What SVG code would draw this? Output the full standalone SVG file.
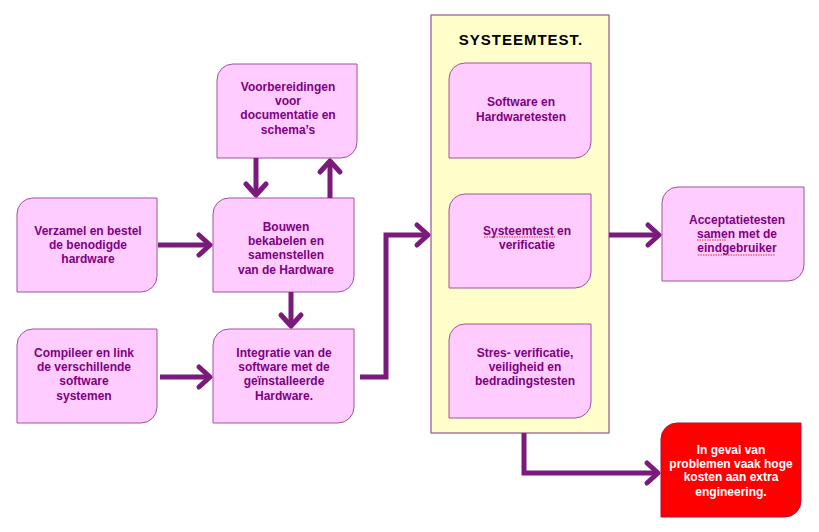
<svg xmlns="http://www.w3.org/2000/svg" width="819" height="532" viewBox="0 0 819 532">
<style>
.box{fill:#ffccff;stroke:#a0529c;stroke-width:1}
.red{fill:#ff0000;stroke:#b0104a;stroke-width:1}
.cont{fill:#ffffcc;stroke:#a0609a;stroke-width:1.3}
.t{font-family:"Liberation Sans",Arial,sans-serif;font-weight:bold;font-size:12px;fill:#800080;text-anchor:middle}
.tw{fill:#ffffff}
.title{font-family:"Liberation Sans",Arial,sans-serif;font-weight:bold;font-size:15px;fill:#000;text-anchor:middle;letter-spacing:1px}
.c{fill:none;stroke:#7a1a7a;stroke-width:5;stroke-linejoin:miter}
.sq{fill:none;stroke:#e03030;stroke-width:1;stroke-dasharray:1.5 1}
</style>
<defs>
<marker id="ah" markerUnits="userSpaceOnUse" markerWidth="30" markerHeight="30" viewBox="-20 -15 30 30" refX="0" refY="0" orient="auto" overflow="visible">
<path d="M-11,-10 L0,0 L-11,10" fill="none" stroke="#7a1a7a" stroke-width="5" stroke-linecap="round" stroke-linejoin="round"/>
</marker>
</defs>
<rect width="819" height="532" fill="#ffffff"/>

<g id="systeemtest">
<rect class="cont" x="431" y="15" width="178" height="418"/>
<text class="title" x="521" y="45">SYSTEEMTEST.</text>
</g>

<g id="voorbereidingen">
<path class="box" d="M233,64 H357 V142 A16,16 0 0 1 341,158 H217 V80 A16,16 0 0 1 233,64 Z"/>
<text class="t" x="288" y="91">Voorbereidingen</text>
<text class="t" x="288" y="105">voor</text>
<text class="t" x="288" y="119">documentatie en</text>
<text class="t" x="288" y="134">schema’s</text>
</g>

<g id="verzamel">
<path class="box" d="M33,198 H157 V276 A16,16 0 0 1 141,292 H17 V214 A16,16 0 0 1 33,198 Z"/>
<text class="t" x="88" y="235">Verzamel en bestel</text>
<text class="t" x="88" y="249">de benodigde</text>
<text class="t" x="88" y="263">hardware</text>
</g>

<g id="bouwen">
<path class="box" d="M229,198 H354 V276 A16,16 0 0 1 338,292 H213 V214 A16,16 0 0 1 229,198 Z"/>
<text class="t" x="286" y="231">Bouwen</text>
<text class="t" x="286" y="245">bekabelen en</text>
<text class="t" x="286" y="259">samenstellen</text>
<text class="t" x="286" y="274">van de Hardware</text>
</g>

<g id="compileer">
<path class="box" d="M33,329 H157 V407 A16,16 0 0 1 141,423 H17 V345 A16,16 0 0 1 33,329 Z"/>
<text class="t" x="84" y="357">Compileer en link</text>
<text class="t" x="84" y="371">de verschillende</text>
<text class="t" x="84" y="385">software</text>
<text class="t" x="84" y="400">systemen</text>
</g>

<g id="integratie">
<path class="box" d="M229,329 H354 V407 A16,16 0 0 1 338,423 H213 V345 A16,16 0 0 1 229,329 Z"/>
<text class="t" x="284" y="357">Integratie van de</text>
<text class="t" x="284" y="371">software met de</text>
<text class="t" x="284" y="385">geïnstalleerde</text>
<text class="t" x="284" y="400">Hardware.</text>
</g>

<g id="softwaretesten">
<path class="box" d="M465,63 H591 V142 A16,16 0 0 1 575,158 H449 V79 A16,16 0 0 1 465,63 Z"/>
<text class="t" x="521" y="106">Software en</text>
<text class="t" x="521" y="121">Hardwaretesten</text>
</g>

<g id="systeemtest-verificatie">
<path class="box" d="M465,194 H591 V272 A16,16 0 0 1 575,288 H449 V210 A16,16 0 0 1 465,194 Z"/>
<text class="t" x="527" y="235">Systeemtest en</text>
<text class="t" x="527" y="249">verificatie</text>
<path class="sq" d="M484,237 H555"/>
</g>

<g id="stres">
<path class="box" d="M465,324 H591 V402 A16,16 0 0 1 575,418 H449 V340 A16,16 0 0 1 465,324 Z"/>
<text class="t" x="525" y="357">Stres- verificatie,</text>
<text class="t" x="525" y="371">veiligheid en</text>
<text class="t" x="525" y="385">bedradingstesten</text>
</g>

<g id="acceptatie">
<path class="box" d="M678,187 H804 V265 A16,16 0 0 1 788,281 H662 V203 A16,16 0 0 1 678,187 Z"/>
<text class="t" x="737" y="224">Acceptatietesten</text>
<text class="t" x="737" y="238">samen met de</text>
<text class="t" x="737" y="252">eindgebruiker</text>
<path class="sq" d="M697,240 H726 M698,255 H775"/>
</g>

<g id="kosten">
<path class="red" d="M677,423 H801 V501 A16,16 0 0 1 785,517 H661 V439 A16,16 0 0 1 677,423 Z"/>
<text class="t tw" x="731" y="454">In geval van</text>
<text class="t tw" x="731" y="468">problemen vaak hoge</text>
<text class="t tw" x="731" y="481">kosten aan extra</text>
<text class="t tw" x="731" y="496">engineering.</text>
</g>

<g id="connectors">
<path class="c" d="M158,245 H210" marker-end="url(#ah)"/>
<path class="c" d="M256,158 V195" marker-end="url(#ah)"/>
<path class="c" d="M330,198 V161" marker-end="url(#ah)"/>
<path class="c" d="M291,292 V326" marker-end="url(#ah)"/>
<path class="c" d="M160,377 H210" marker-end="url(#ah)"/>
<path class="c" d="M360,377 H386 V235 H428" marker-end="url(#ah)"/>
<path class="c" d="M609,235 H659" marker-end="url(#ah)"/>
<path class="c" d="M524,433 V473 H658" marker-end="url(#ah)"/>
</g>
</svg>
